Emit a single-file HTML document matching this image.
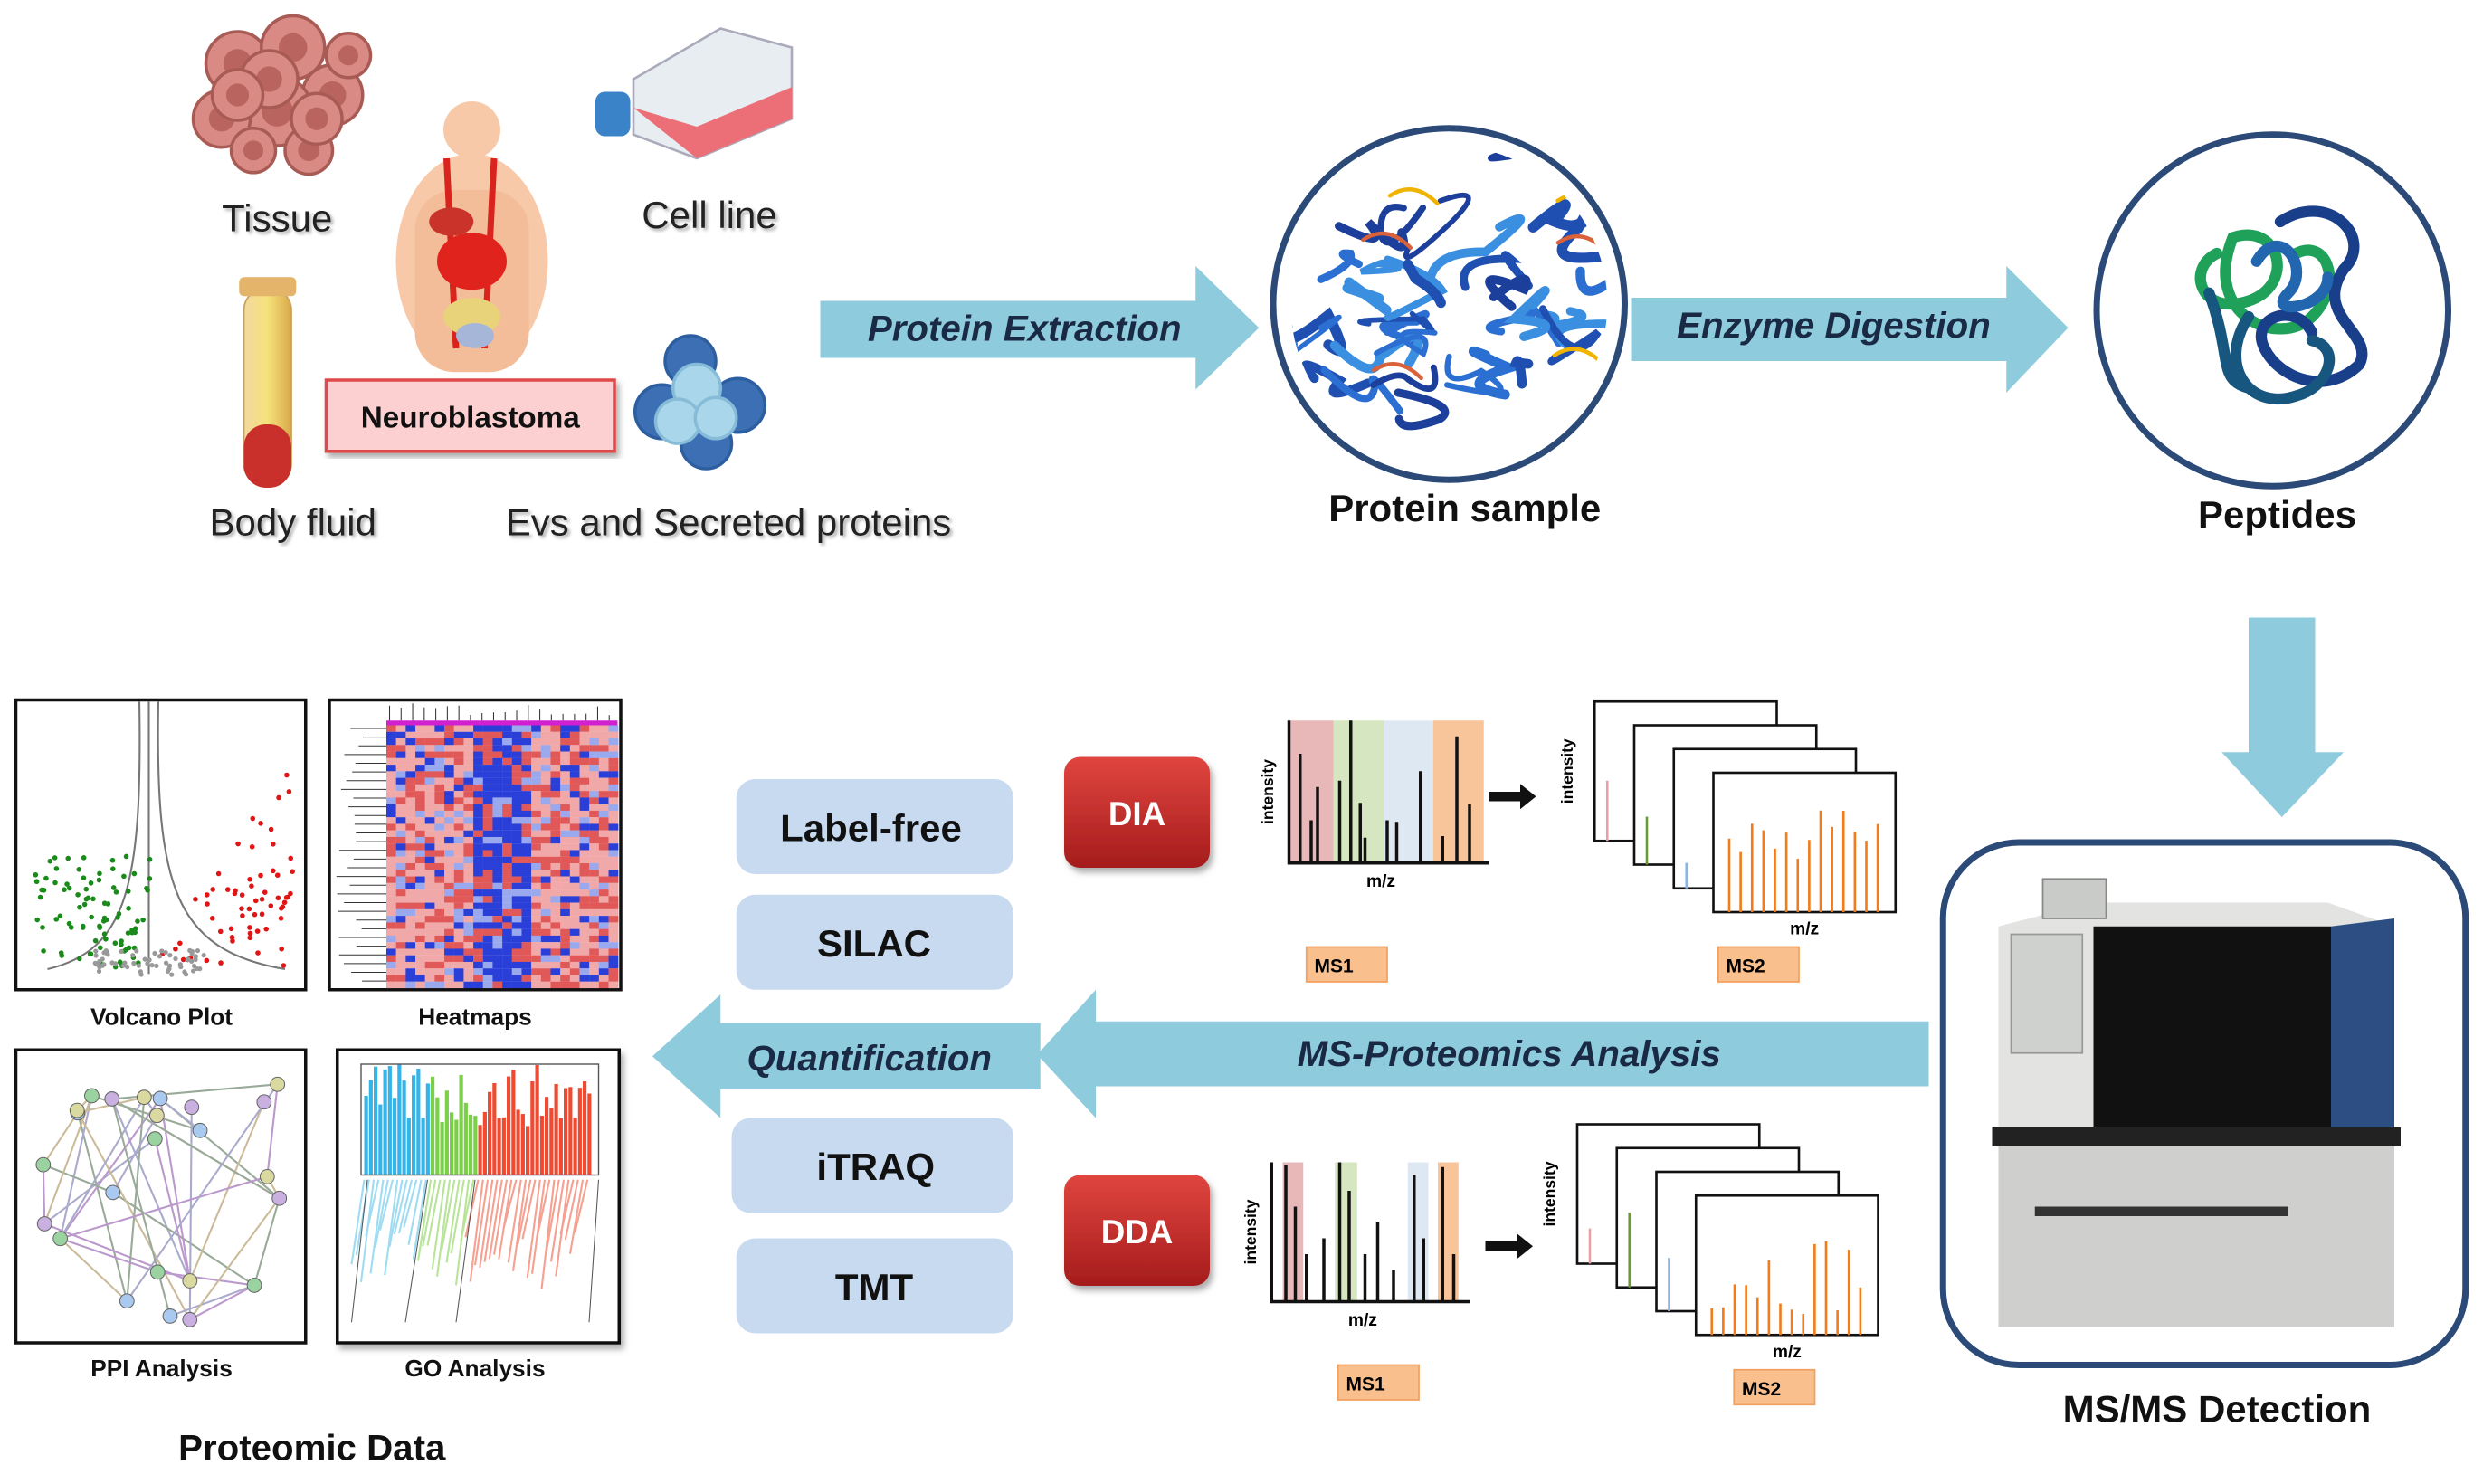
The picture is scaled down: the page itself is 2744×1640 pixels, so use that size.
<!DOCTYPE html>
<html><head><meta charset="utf-8"><style>
html,body{margin:0;padding:0;background:#fff}
svg{display:block}
text{font-family:"Liberation Sans",Arial,sans-serif}
</style></head><body>
<svg id="s" width="2744" height="1640" viewBox="0 0 1568 937.14" xmlns="http://www.w3.org/2000/svg">
<defs>
<linearGradient id="red" x1="0" y1="0" x2="0" y2="1"><stop offset="0" stop-color="#e0453f"/><stop offset="1" stop-color="#a51c1c"/></linearGradient>
<linearGradient id="tube" x1="0" x2="1"><stop offset="0" stop-color="#f3d7a0"/><stop offset="0.5" stop-color="#f5e27a"/><stop offset="1" stop-color="#d9a94a"/></linearGradient>
<filter id="sh"><feDropShadow dx="1.5" dy="1.5" stdDeviation="1" flood-color="#999" flood-opacity="0.8"/></filter>
<filter id="bs"><feDropShadow dx="2" dy="3" stdDeviation="2" flood-color="#777" flood-opacity="0.6"/></filter>
<clipPath id="pc"><circle cx="915" cy="192" r="100"/></clipPath>
</defs>

<g id="tissue"></g>
<g>
 <ellipse cx="298" cy="165" rx="48" ry="68" fill="#f7c9a8"/>
 <circle cx="298" cy="82" r="18" fill="#f7c9a8"/>
 <rect x="262" y="120" width="72" height="115" rx="25" fill="#f4bd9a"/>
 <path d="M282 100 L288 220 M312 100 L306 220" stroke="#d9241e" stroke-width="4" fill="none"/>
 <ellipse cx="298" cy="165" rx="22" ry="18" fill="#e0231d"/>
 <ellipse cx="285" cy="140" rx="14" ry="9" fill="#c9332a"/>
 <ellipse cx="298" cy="200" rx="18" ry="12" fill="#e8d27a"/>
 <ellipse cx="300" cy="212" rx="12" ry="8" fill="#a6b6d8"/>
</g>
<text x="175" y="146" font-size="24" text-anchor="middle" fill="#222" filter="url(#sh)">Tissue</text>
<g>
 <path d="M400 50 L455 18 L500 30 L500 75 L440 100 L400 85 Z" fill="#e8edf2" stroke="#aab" stroke-width="1.5"/>
 <path d="M400 68 L440 100 L500 75 L500 55 L440 80 Z" fill="#ec6f78"/>
 <rect x="376" y="58" width="22" height="28" rx="6" fill="#3a83c8"/>
</g>
<text x="448" y="144" font-size="24" text-anchor="middle" fill="#222" filter="url(#sh)">Cell line</text>
<rect x="154" y="182" width="30" height="125" rx="14" fill="url(#tube)" stroke="#c9a25a"/>
<rect x="154" y="268" width="30" height="40" rx="14" fill="#c9302c"/>
<rect x="151" y="175" width="36" height="12" rx="3" fill="#e3b46a"/>
<text x="185" y="338" font-size="24" text-anchor="middle" fill="#222" filter="url(#sh)">Body fluid</text>
<rect x="206" y="240" width="182" height="45" fill="#fcd0d0" stroke="#e04848" stroke-width="2" filter="url(#bs)"/>
<text x="297" y="270" font-size="19" font-weight="bold" text-anchor="middle" fill="#111">Neuroblastoma</text>
<g stroke="#2d5fa0" stroke-width="2">
 <circle cx="436" cy="228" r="16" fill="#3d6fb4"/>
 <circle cx="466" cy="256" r="17" fill="#3d6fb4"/>
 <circle cx="418" cy="260" r="17" fill="#3d6fb4"/>
 <circle cx="446" cy="280" r="16" fill="#3d6fb4"/>
 <circle cx="440" cy="245" r="15" fill="#a9d6ea" stroke="#86bcd8"/>
 <circle cx="428" cy="266" r="14" fill="#a9d6ea" stroke="#86bcd8"/>
 <circle cx="452" cy="264" r="13" fill="#a9d6ea" stroke="#86bcd8"/>
</g>
<text x="460" y="338" font-size="24" text-anchor="middle" fill="#222" filter="url(#sh)">Evs and Secreted proteins</text>

<path d="M518 190 L755 190 L755 168 L795 207 L755 246 L755 226 L518 226 Z" fill="#8ecbdd"/>
<text x="647" y="215" font-size="23" font-weight="bold" font-style="italic" text-anchor="middle" fill="#1a2a44">Protein Extraction</text>
<circle cx="915" cy="192" r="111" fill="#fff" stroke="#2b4a78" stroke-width="4"/>
<g id="prot" fill="none" stroke-linecap="round" clip-path="url(#pc)"></g>
<text x="925" y="329" font-size="24" font-weight="bold" text-anchor="middle" fill="#111">Protein sample</text>
<path d="M1030 188 L1267 188 L1267 168 L1306 207 L1267 248 L1267 228 L1030 228 Z" fill="#8ecbdd"/>
<text x="1158" y="213" font-size="23" font-weight="bold" font-style="italic" text-anchor="middle" fill="#1a2a44">Enzyme Digestion</text>
<circle cx="1435" cy="196" r="111" fill="#fff" stroke="#2b4a78" stroke-width="4"/>
<g fill="none" stroke-width="7" stroke-linecap="round">
 <path d="M1400 160 C1380 170 1390 200 1420 190 C1450 180 1440 140 1410 150 C1390 200 1440 220 1460 200 C1480 180 1470 150 1450 160" stroke="#1fa15a"/>
 <path d="M1440 140 C1470 120 1500 150 1480 170 C1460 200 1500 210 1490 230 C1470 250 1440 240 1430 220 C1420 200 1450 190 1460 210" stroke="#1a3f8a"/>
 <path d="M1420 200 C1400 230 1420 260 1450 250 C1470 245 1480 220 1460 215 M1395 185 C1410 225 1400 240 1420 245" stroke="#17577f"/>
 <path d="M1425 165 C1440 140 1460 170 1445 185 C1430 200 1470 195 1470 175" stroke="#2266b0"/>
</g>
<text x="1438" y="333" font-size="24" font-weight="bold" text-anchor="middle" fill="#111">Peptides</text>

<path d="M1420 390 L1462 390 L1462 475 L1480 475 L1441 516 L1403 475 L1420 475 Z" fill="#8ecbdd"/>

<rect x="1227" y="532" width="330" height="330" rx="48" fill="#fff" stroke="#2b4a78" stroke-width="4"/>
<g>
 <path d="M1262 585 L1320 570 L1470 570 L1512 585 L1512 715 L1262 715 Z" fill="#e3e4e2"/>
 <rect x="1322" y="585" width="150" height="130" fill="#111"/>
 <path d="M1472 585 L1512 580 L1512 715 L1472 715 Z" fill="#2c4e82"/>
 <rect x="1270" y="590" width="45" height="75" fill="#cfd1ce" stroke="#999"/>
 <rect x="1290" y="555" width="40" height="25" fill="#c9cbc8" stroke="#888"/>
 <rect x="1258" y="712" width="258" height="12" fill="#222"/>
 <rect x="1262" y="724" width="250" height="114" fill="#cfd0ce"/>
 <rect x="1285" y="762" width="160" height="6" fill="#333"/>
</g>
<text x="1400" y="898" font-size="24" font-weight="bold" text-anchor="middle" fill="#111">MS/MS Detection</text>

<path d="M1218 645 L692 645 L692 625 L655 666 L692 706 L692 686 L1218 686 Z" fill="#8ecbdd"/>
<text x="953" y="673" font-size="23" font-weight="bold" font-style="italic" text-anchor="middle" fill="#1a2a44">MS-Proteomics Analysis</text>
<path d="M657 646 L455 646 L455 628 L412 667 L455 706 L455 688 L657 688 Z" fill="#8ecbdd"/>
<text x="549" y="676" font-size="23" font-weight="bold" font-style="italic" text-anchor="middle" fill="#1a2a44">Quantification</text>

<g fill="#c7daf0">
<rect x="465" y="492" width="175" height="60" rx="12"/>
<rect x="465" y="565" width="175" height="60" rx="12"/>
<rect x="462" y="706" width="178" height="60" rx="12"/>
<rect x="465" y="782" width="175" height="60" rx="12"/>
</g>
<g font-size="24" font-weight="bold" text-anchor="middle" fill="#111">
<text x="550" y="531">Label-free</text>
<text x="552" y="604">SILAC</text>
<text x="553" y="745">iTRAQ</text>
<text x="552" y="821">TMT</text>
</g>
<rect x="672" y="478" width="92" height="70" rx="10" fill="url(#red)" filter="url(#bs)"/>
<text x="718" y="521" font-size="21" font-weight="bold" text-anchor="middle" fill="#fff">DIA</text>
<rect x="672" y="742" width="92" height="70" rx="10" fill="url(#red)" filter="url(#bs)"/>
<text x="718" y="785" font-size="21" font-weight="bold" text-anchor="middle" fill="#fff">DDA</text>

<g id="spec"></g>

<rect x="10" y="442" width="183" height="183" fill="#fff" stroke="#111" stroke-width="2"/>
<rect x="208" y="442" width="184" height="183" fill="#fff" stroke="#111" stroke-width="2"/>
<rect x="10" y="663" width="183" height="185" fill="#fff" stroke="#111" stroke-width="2"/>
<rect x="213" y="663" width="178" height="185" fill="#fff" stroke="#111" stroke-width="2" filter="url(#bs)"/>
<g id="panels"></g>
<g font-size="15" font-weight="bold" text-anchor="middle" fill="#111">
<text x="102" y="647">Volcano Plot</text>
<text x="300" y="647">Heatmaps</text>
<text x="102" y="869">PPI Analysis</text>
<text x="300" y="869">GO Analysis</text>
</g>
<text x="197" y="922" font-size="23" font-weight="bold" text-anchor="middle" fill="#111">Proteomic Data</text>
</svg>
<script>
var NS="http://www.w3.org/2000/svg";
function el(p,t,a){var e=document.createElementNS(NS,t);for(var k in a)e.setAttribute(k,a[k]);p.appendChild(e);return e;}
var seed=7;function r(){seed=(seed*16807)%2147483647;return seed/2147483647;}
var ti=document.getElementById('tissue');
[[150,40,20],[185,30,20],[210,60,19],[175,70,22],[140,75,18],[195,95,15],[160,95,14],[220,35,14],[170,50,18],[200,75,16],[150,60,16]].forEach(function(c){
 el(ti,'circle',{cx:c[0],cy:c[1],r:c[2],fill:'#d98a84',stroke:'#a85a55','stroke-width':2});
 el(ti,'circle',{cx:c[0],cy:c[1],r:c[2]*0.45,fill:'#b9645e'});});
var pr=document.getElementById('prot');
var cols=['#1f4fb0','#2a6fd1','#3b8fe0','#1b3f9a'];
for(var i=0;i<34;i++){var x=830+r()*170,y=110+r()*140;var d='M'+x+' '+y;
 for(var j=0;j<2;j++){d+=' Q'+(x+(r()-0.5)*80)+' '+(y+(r()-0.5)*60)+' '+(x=x+(r()-0.5)*70)+' '+(y=y+(r()-0.5)*40);}
 el(pr,'path',{d:d,stroke:cols[i%4],'stroke-width':3+r()*4});}
for(var i=0;i<6;i++){var x=850+r()*140,y=120+r()*120;el(pr,'path',{d:'M'+x+' '+y+' q15 -10 30 5',stroke:i%2?'#f0b400':'#d9623a','stroke-width':2.5});}
var sp=document.getElementById('spec');
function ms1(ox,oy,w,h,bands,peaks){
 bands.forEach(function(b){el(sp,'rect',{x:b[0],y:oy-h,width:b[1],height:h,fill:b[2]});});
 peaks.forEach(function(p){el(sp,'line',{x1:p[0],y1:oy,x2:p[0],y2:oy-p[1],stroke:'#111','stroke-width':2});});
 el(sp,'path',{d:'M'+ox+' '+(oy-h)+' L'+ox+' '+oy+' L'+(ox+w)+' '+oy,stroke:'#111','stroke-width':2,fill:'none'});
 var t=el(sp,'text',{x:ox-10,y:oy-h/2,'font-size':10,'font-weight':'bold','text-anchor':'middle',transform:'rotate(-90 '+(ox-10)+' '+(oy-h/2)+')'});t.textContent='intensity';
 t=el(sp,'text',{x:ox+w/2-5,y:oy+15,'font-size':11,'font-weight':'bold','text-anchor':'middle'});t.textContent='m/z';
}
ms1(814,545,126,90,[[814,28,'#e8b8b8'],[842,32,'#d6e6c0'],[874,31,'#dde8f3'],[905,32,'#f8c49a']],
 [[821,69],[828,27],[832,48],[846,52],[853,90],[859,38],[862,16],[876,27],[882,26],[897,58],[911,17],[920,80],[928,37]]);
ms1(803,822,125,88,[[810,13,'#e8b8b8'],[843,14,'#d6e6c0'],[889,13,'#dde8f3'],[908,13,'#f8c49a']],
 [[812,86],[818,60],[825,30],[836,40],[846,88],[852,70],[862,30],[870,50],[880,20],[893,80],[899,40],[911,85],[918,30]]);
function arrow(x,y){el(sp,'path',{d:'M'+x+' '+(y-3)+' L'+(x+20)+' '+(y-3)+' L'+(x+20)+' '+(y-8)+' L'+(x+30)+' '+y+' L'+(x+20)+' '+(y+8)+' L'+(x+20)+' '+(y+3)+' L'+x+' '+(y+3)+'Z',fill:'#111'});}
arrow(940,503);arrow(938,787);
function ms2(x0,y0,w,h,dx,dy){
 var c=['#e8a0a8','#6a9a34','#8fb4e0','#f07c1c'];
 for(var k=0;k<4;k++){var x=x0+k*dx,y=y0+k*dy;
  el(sp,'rect',{x:x,y:y,width:w,height:h,fill:'#fff',stroke:'#111','stroke-width':1.5});
  var n=k==3?14:3;for(var q=0;q<n;q++){var px=x+8+q*(w-14)/n+(k<3?0:2),ph=h*(0.15+r()*0.6);
   el(sp,'line',{x1:px,y1:y+h,x2:px,y2:y+h-ph,stroke:c[k],'stroke-width':1.5});}}
 var t=el(sp,'text',{x:x0-14,y:y0+h/2,'font-size':10,'font-weight':'bold','text-anchor':'middle',transform:'rotate(-90 '+(x0-14)+' '+(y0+h/2)+')'});t.textContent='intensity';
 t=el(sp,'text',{x:x0+3*dx+w/2,y:y0+3*dy+h+14,'font-size':11,'font-weight':'bold','text-anchor':'middle'});t.textContent='m/z';
}
ms2(1007,443,115,88,25,15);ms2(996,710,115,88,25,15);
function lab(x,y,s){el(sp,'rect',{x:x,y:y,width:51,height:22,fill:'#f9c08e',stroke:'#f2a060'});var t=el(sp,'text',{x:x+5,y:y+16,'font-size':12,'font-weight':'bold'});t.textContent=s;}
lab(825,598,'MS1');lab(1085,598,'MS2');lab(845,862,'MS1');lab(1095,865,'MS2');
var pn=document.getElementById('panels');
el(pn,'path',{d:'M88 443 C90 560 80 600 30 612 M100 443 C98 560 110 600 180 612 M94 443 L94 615',stroke:'#777','stroke-width':1.2,fill:'none'});
for(var i=0;i<90;i++){var x=20+r()*75,y=540+r()*72;if(x<95&&y>545-((95-x)*0.5)-30)el(pn,'circle',{cx:x,cy:y,r:1.6,fill:'#1a8a1a'});}
for(var i=0;i<120;i++){var x=100+r()*85,y=480+r()*130;if(y>600-(x-100)*1.4)el(pn,'circle',{cx:x,cy:y,r:1.6,fill:'#e01515'});}
for(var i=0;i<60;i++){el(pn,'circle',{cx:60+r()*70,cy:600+r()*16,r:1.5,fill:'#999'});}
for(var i=0;i<24;i++)for(var j=0;j<40;j++){var v=r();var cx=244+i*6.1;var blue=(cx>295&&cx<335)?0.6:0.15;
 var col=v<blue?'#2a3fd8':(v<blue+0.15?'#9aa8ee':(v<0.75?'#f0a8a8':'#e05858'));
 el(pn,'rect',{x:cx,y:458+j*4.15,width:6.2,height:4.2,fill:col});}
el(pn,'rect',{x:244,y:455,width:146,height:3,fill:'#d020d0'});
for(var j=0;j<30;j++){var y=460+j*5.5;el(pn,'path',{d:'M244 '+y+' L'+(230-r()*18)+' '+y,stroke:'#333','stroke-width':0.6});}
for(var i=0;i<20;i++){var x=246+i*7.3;el(pn,'path',{d:'M'+x+' 455 L'+x+' '+(452-r()*8),stroke:'#333','stroke-width':0.6});}
var nodes=[];for(var i=0;i<24;i++)nodes.push([25+r()*155,680+r()*160]);
for(var i=0;i<40;i++){var a=nodes[Math.floor(r()*24)],b=nodes[Math.floor(r()*24)];el(pn,'line',{x1:a[0],y1:a[1],x2:b[0],y2:b[1],stroke:['#9a9','#b9c','#aac','#cb9'][i%4],'stroke-width':1.2});}
nodes.forEach(function(n,i){el(pn,'circle',{cx:n[0],cy:n[1],r:4.5,fill:['#9bd3a0','#a9c9ee','#d9d9a0','#c9b0e0'][i%4],stroke:'#666','stroke-width':0.6});});
for(var i=0;i<48;i++){var x=230+i*3;var col=x<270?'#36b4e8':(x<300?'#7bd048':'#ef4a32');var h=30+r()*40;
 el(pn,'rect',{x:x,y:742-h,width:2.4,height:h,fill:col});}
el(pn,'rect',{x:228,y:672,width:150,height:70,fill:'none',stroke:'#555','stroke-width':0.8});
for(var i=0;i<48;i++){var x=230+i*3;var col=x<270?'#9fdcf2':(x<300?'#b8e49a':'#f5a090');el(pn,'line',{x1:x,y1:745,x2:x-8,y2:745+30+r()*40,stroke:col,'stroke-width':1.2});}
el(pn,'path',{d:'M232 745 L222 835 M270 745 L256 835 M300 745 L288 835 M378 745 L372 835',stroke:'#555','stroke-width':0.6});
</script>
</body></html>
